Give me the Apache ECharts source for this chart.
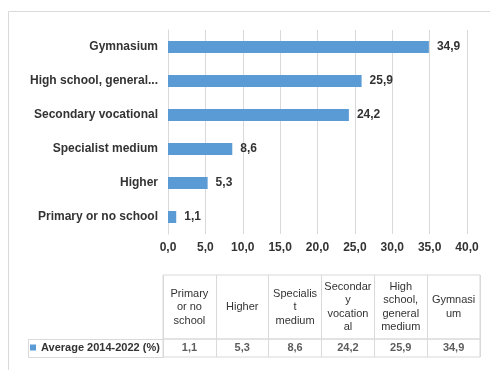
<!DOCTYPE html>
<html>
<head>
<meta charset="utf-8">
<script src="https://cdn.jsdelivr.net/npm/echarts@6/dist/echarts.min.js"></script>
<style>
  html, body { margin: 0; padding: 0; background: #fff; }
  #chart { width: 490px; height: 370px; }
</style>
</head>
<body>
<div id="chart"></div>
<script>
// data, bottom to top on the bar axis, left to right in the table
var categories = ['Primary or no school', 'Higher', 'Specialist medium', 'Secondary vocational', 'High school, general medium', 'Gymnasium'];
var headerLabels = ['Primary\nor no\nschool', 'Higher', 'Specialis\nt\nmedium', 'Secondar\ny\nvocation\nal', 'High\nschool,\ngeneral\nmedium', 'Gymnasi\num'];
var values = [1.1, 5.3, 8.6, 24.2, 25.9, 34.9];
var seriesName = 'Average 2014-2022 (%)';
var xTicks = [0, 5, 10, 15, 20, 25, 30, 35, 40];

var font = 'Liberation Sans, Arial, sans-serif';
var txt = '#333333';
var lineCol = '#d9d9d9';
var barCol = '#5B9BD5';

// table layout
var tabLeft = 28, colLeft = 163, tabRight = 480, headTop = 275, rowTop = 339, rowH = 18;

function fmt(v) {
	return v.toFixed(1).replace('.', ',');
}

var myChart = echarts.init(document.getElementById('chart'));

var option = {
	animation: false,
	textStyle: { fontFamily: font },
	grid: [
		{ left: 168, right: 23, top: 30, height: 204 },
		{ left: colLeft, right: 490 - tabRight, top: headTop, height: rowTop - headTop, show: true, borderColor: lineCol, borderWidth: 1 },
		{ left: colLeft, right: 490 - tabRight, top: rowTop, height: rowH, show: true, borderColor: lineCol, borderWidth: 1 }
	],
	legend: {
		data: [seriesName],
		left: tabLeft + 2,
		top: rowTop + 3,
		padding: 0,
		icon: 'rect',
		itemWidth: 6,
		itemHeight: 6,
		selectedMode: false,
		textStyle: { fontFamily: font, fontSize: 11, fontWeight: 'bold', color: txt }
	},
	xAxis: [
		{
			type: 'value',
			gridIndex: 0,
			min: xTicks[0],
			max: xTicks[xTicks.length - 1],
			interval: xTicks[1] - xTicks[0],
			axisLine: { show: false },
			axisTick: { show: false },
			splitLine: { lineStyle: { color: lineCol } },
			axisLabel: { formatter: fmt, fontSize: 12, fontWeight: 'bold', color: txt, margin: 8, fontFamily: font }
		},
		{
			type: 'category',
			gridIndex: 1,
			position: 'top',
			data: headerLabels,
			axisLine: { show: false },
			axisTick: { show: false },
			splitLine: { show: true, interval: 0, lineStyle: { color: lineCol } },
			axisLabel: { inside: true, interval: 0, margin: (rowTop - headTop) / 2, verticalAlign: 'middle', fontSize: 11, lineHeight: 13.5, color: txt, fontFamily: font }
		},
		{
			type: 'category',
			gridIndex: 2,
			data: categories,
			axisLine: { show: false },
			axisTick: { show: false },
			axisLabel: { show: false },
			splitLine: { show: true, interval: 0, lineStyle: { color: lineCol } }
		}
	],
	yAxis: [
		{
			type: 'category',
			gridIndex: 0,
			data: categories,
			axisLine: { show: true, lineStyle: { color: lineCol } },
			axisTick: { show: false },
			axisLabel: { fontSize: 12, fontWeight: 'bold', color: txt, margin: 10, width: 136, overflow: 'truncate', ellipsis: '...', fontFamily: font }
		},
		{ type: 'value', gridIndex: 1, show: false },
		{ type: 'category', gridIndex: 2, data: [seriesName], show: false }
	],
	series: [
		{
			name: seriesName,
			type: 'bar',
			xAxisIndex: 0,
			yAxisIndex: 0,
			data: values,
			barWidth: 12,
			itemStyle: { color: barCol },
			label: {
				show: true,
				position: 'right',
				distance: 8,
				formatter: function (p) { return fmt(p.value); },
				fontSize: 12,
				fontWeight: 'bold',
				color: txt,
				fontFamily: font
			}
		},
		{
			name: 'table',
			type: 'scatter',
			xAxisIndex: 2,
			yAxisIndex: 2,
			symbolSize: 1,
			itemStyle: { color: 'rgba(0,0,0,0)' },
			data: values.map(function (v, i) { return [i, 0, v]; }),
			label: {
				show: true,
				position: 'inside',
				formatter: function (p) { return fmt(p.value[2]); },
				fontSize: 11,
				fontWeight: 'bold',
				color: txt,
				fontFamily: font
			}
		}
	],
	graphic: [
		{
			type: 'rect',
			z: -1,
			shape: { x: 8.5, y: 11.5, width: 500, height: 400 },
			style: { fill: 'none', stroke: lineCol, lineWidth: 1 }
		},
		{
			type: 'rect',
			shape: { x: tabLeft + 0.5, y: rowTop + 0.5, width: colLeft - tabLeft, height: rowH },
			style: { fill: 'none', stroke: lineCol, lineWidth: 1 }
		}
	]
};

myChart.setOption(option);
</script>
</body>
</html>
